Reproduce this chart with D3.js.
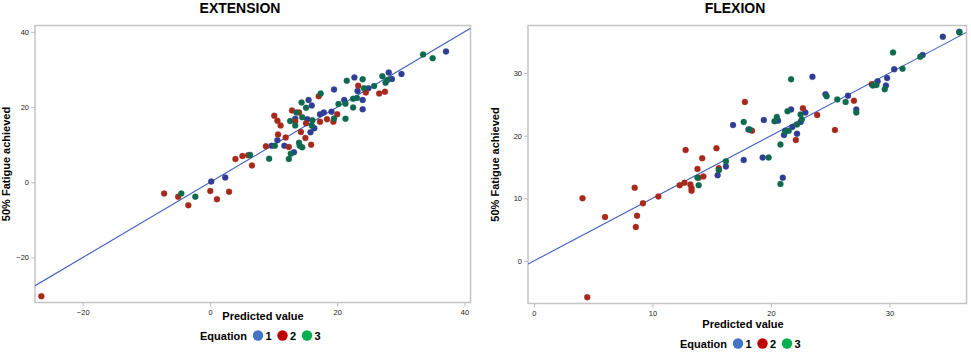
<!DOCTYPE html>
<html lang="en">
  <head>
    <meta charset="UTF-8" />
    <title>Extension / Flexion</title>
    <style>
      body { margin: 0; background: #fff; }
      svg text { font-family: "Liberation Sans", Arial, sans-serif; }
    </style>
  </head>
  <body>
    <svg id="svg" width="971" height="353"></svg>

    <script src="https://cdn.jsdelivr.net/npm/d3@7"></script>
    <script>
      const WIDTH = 971;
      const HEIGHT = 353;

      const extEq1 = [[0.2,0.2],[2.4,1.3],[9.7,9.7],[10.6,11.2],[11.7,9.7],[13.2,8.0],[13.4,16.9],[15.5,21.9],[16.0,20.4],[15.8,13.3],[16.4,14.4],[15.3,16.8],[17.3,18.1],[17.9,18.6],[19.1,18.8],[19.5,24.7],[21.1,21.9],[22.7,27.9],[23.2,24.3],[24.0,21.9],[24.0,19.4],[24.9,25.0],[28.1,29.2],[28.6,27.5],[30.1,28.8],[37.1,34.8]];
      const extEq2 = [[-26.5,-30.3],[-7.2,-3.0],[-5.0,-3.8],[-3.4,-6.1],[0.05,-2.3],[1.1,-4.5],[3.0,-2.5],[4.0,6.2],[5.1,7.0],[6.0,7.2],[6.6,4.5],[8.8,9.6],[10.1,17.7],[10.6,16.4],[11.1,15.1],[10.7,12.7],[11.9,11.9],[12.4,9.4],[12.9,19.1],[13.4,16.2],[14.0,18.6],[14.3,13.4],[15.0,11.8],[15.9,10.0],[15.1,15.7],[17.1,22.9],[17.3,16.1],[18.4,16.8],[19.4,16.1],[20.0,18.1],[23.3,25.7],[24.5,23.9],[26.6,23.6],[27.5,24.1]];
      const extEq3 = [[-4.5,-3.0],[-2.3,-3.8],[6.3,7.3],[9.3,6.3],[10.2,9.7],[12.4,6.2],[12.7,7.6],[12.6,16.3],[13.4,15.1],[13.6,18.6],[14.0,10.5],[14.1,9.7],[14.5,9.3],[14.4,21.2],[14.5,17.3],[15.1,19.8],[16.1,16.5],[16.0,15.1],[17.4,23.6],[19.5,17.0],[20.2,20.8],[21.3,16.9],[21.3,20.9],[21.5,27.0],[22.5,19.9],[22.5,22.2],[23.1,22.4],[24.0,27.4],[24.2,25.0],[25.8,25.6],[27.1,28.2],[27.6,26.5],[27.9,27.2],[33.5,34.0],[35.0,33.0]];

      const flexEq1 = [[15.5,13.7],[16.2,15.1],[16.8,21.7],[17.7,16.1],[18.1,21.0],[19.3,16.5],[19.4,22.5],[20.6,22.4],[21.0,13.3],[21.1,20.1],[21.2,20.8],[21.7,24.2],[21.8,21.4],[22.2,20.3],[22.5,22.2],[22.9,23.7],[23.5,29.4],[24.6,26.6],[26.5,26.4],[27.2,24.2],[29.0,28.7],[29.8,29.2],[29.7,28.0],[30.4,30.6],[32.8,32.9],[34.5,35.8],[35.9,36.6]];
      const flexEq2 = [[4.1,10.0],[4.5,-5.8],[6.0,7.0],[8.5,11.7],[8.7,7.2],[8.6,5.4],[9.2,9.2],[10.5,10.3],[12.3,12.1],[12.7,12.5],[12.8,17.7],[13.2,12.2],[13.3,11.6],[13.3,11.2],[13.8,14.7],[14.2,16.4],[14.3,13.5],[13.9,13.3],[15.4,18.0],[15.6,14.8],[17.8,25.4],[18.4,20.8],[22.1,19.3],[22.7,24.4],[23.9,23.3],[25.4,20.9],[27.0,25.6],[28.5,28.2]];
      const flexEq3 = [[13.8,13.3],[13.9,12.1],[15.6,14.5],[16.2,15.9],[17.7,22.2],[18.2,21.0],[19.8,16.5],[20.3,22.3],[20.5,23.0],[20.8,18.6],[20.8,12.3],[21.2,20.6],[21.4,23.9],[21.5,20.8],[21.7,29.0],[22.2,21.8],[22.5,23.4],[22.6,22.6],[24.7,26.3],[25.6,25.8],[26.3,25.4],[27.2,23.7],[28.6,28.0],[28.9,28.1],[29.6,27.4],[30.3,33.3],[31.1,30.7],[32.6,32.6],[35.9,36.5]];

      const equations = ["1", "2", "3"];
      const pointColors = ["#2f3e94", "#a8281c", "#0d6a4f"];
      const legendColors = ["#4472c4", "#c00000", "#00b050"];

      const extXTicks = [-20, 0, 20, 40];
      const extYTicks = [-20, 0, 20, 40];
      const flexXTicks = [0, 10, 20, 30];
      const flexYTicks = [0, 10, 20, 30];

      // fit line: observed = slope * predicted + intercept
      const extFit = [1, 0];
      const flexFit = [1, 0];

      const svg = d3.select("#svg");

      function drawPanel(p) {
        const x = d3.scaleLinear().domain(p.xDomain).range([p.left, p.right]);
        const y = d3.scaleLinear().domain(p.yDomain).range([p.bottom, p.top]);
        const g = svg.append("g");

        g.append("rect")
          .attr("x", p.left)
          .attr("y", p.top)
          .attr("width", p.right - p.left)
          .attr("height", p.bottom - p.top)
          .attr("fill", "none")
          .attr("stroke", "#c4c4c4")
          .attr("stroke-width", 1.5);

        // axes
        const bottomAxis = d3.axisBottom(x).tickValues(p.xTicks).tickSize(4).tickPadding(3);
        const leftAxis = d3.axisLeft(y).tickValues(p.yTicks).tickSize(4).tickPadding(2);
        const ax = g.append("g").attr("transform", `translate(0, ${p.bottom})`).call(bottomAxis);
        const ay = g.append("g").attr("transform", `translate(${p.left}, 0)`).call(leftAxis);
        [ax, ay].forEach((a) => {
          a.select(".domain").remove();
          a.selectAll(".tick line").attr("stroke", "#bdbdbd");
          a.selectAll(".tick text")
            .attr("fill", "#222")
            .style("font-size", "7.5px")
            .style("font-family", "'Liberation Sans', Arial, sans-serif");
        });

        // fit line
        const line = d3.line().x((d) => x(d)).y((d) => y(p.fit[0] * d + p.fit[1]));
        const clipId = "clip" + p.name;
        g.append("clipPath").attr("id", clipId)
          .append("rect")
          .attr("x", p.left).attr("y", p.top)
          .attr("width", p.right - p.left).attr("height", p.bottom - p.top);
        g.append("path")
          .attr("d", line(p.xDomain))
          .attr("clip-path", `url(#${clipId})`)
          .attr("stroke", "#3d5cbf")
          .attr("stroke-width", 1.1)
          .attr("fill", "none");

        // points
        p.series.forEach((s, i) => {
          g.append("g")
            .selectAll("circle")
            .data(s)
            .enter()
            .append("circle")
            .attr("cx", (d) => x(d[0]))
            .attr("cy", (d) => y(d[1]))
            .attr("r", 3)
            .attr("fill", pointColors[i])
            .attr("stroke", pointColors[i])
            .attr("stroke-opacity", 0.5)
            .attr("stroke-width", 0.6);
        });

        // titles
        g.append("text")
          .attr("x", p.titleX)
          .attr("y", 13)
          .attr("text-anchor", "middle")
          .style("font-size", "14px")
          .style("font-weight", "bold")
          .text(p.title);

        g.append("text")
          .attr("transform", `translate(${p.yLabelX}, ${(p.top + p.bottom) / 2}) rotate(-90)`)
          .attr("text-anchor", "middle")
          .style("font-size", "11px")
          .style("font-weight", "bold")
          .text("50% Fatigue achieved");

        g.append("text")
          .attr("x", p.xLabelX)
          .attr("y", p.xLabelY)
          .attr("text-anchor", "middle")
          .style("font-size", "11px")
          .style("font-weight", "bold")
          .text("Predicted value");

        // legend
        const lg = g.append("g").attr("transform", `translate(${p.legendX}, ${p.legendY})`);
        lg.append("text")
          .attr("x", 0)
          .attr("y", 4)
          .style("font-size", "11px")
          .style("font-weight", "bold")
          .text("Equation");
        equations.forEach((e, i) => {
          const cx = 58 + i * 24.5;
          lg.append("circle").attr("cx", cx).attr("cy", 0).attr("r", 5.2).attr("fill", legendColors[i]);
          lg.append("text")
            .attr("x", cx + 7.5)
            .attr("y", 4)
            .style("font-size", "11px")
            .style("font-weight", "bold")
            .text(e);
        });
      }

      drawPanel({
        name: "ext",
        title: "EXTENSION",
        left: 35, right: 470.5, top: 25.5, bottom: 302.5,
        xDomain: [-27.5, 40.95], yDomain: [-31.95, 41.7],
        xTicks: extXTicks, yTicks: extYTicks, fit: extFit,
        series: [extEq1, extEq2, extEq3],
        titleX: 240, yLabelX: 10, xLabelX: 263, xLabelY: 320,
        legendX: 200, legendY: 335.5
      });

      drawPanel({
        name: "flex",
        title: "FLEXION",
        left: 528, right: 966.5, top: 25.5, bottom: 303.5,
        xDomain: [-0.5, 36.5], yDomain: [-6.8, 37.6],
        xTicks: flexXTicks, yTicks: flexYTicks, fit: flexFit,
        series: [flexEq1, flexEq2, flexEq3],
        titleX: 735, yLabelX: 499, xLabelX: 743, xLabelY: 328,
        legendX: 680, legendY: 343.5
      });
    </script>
  </body>
</html>
